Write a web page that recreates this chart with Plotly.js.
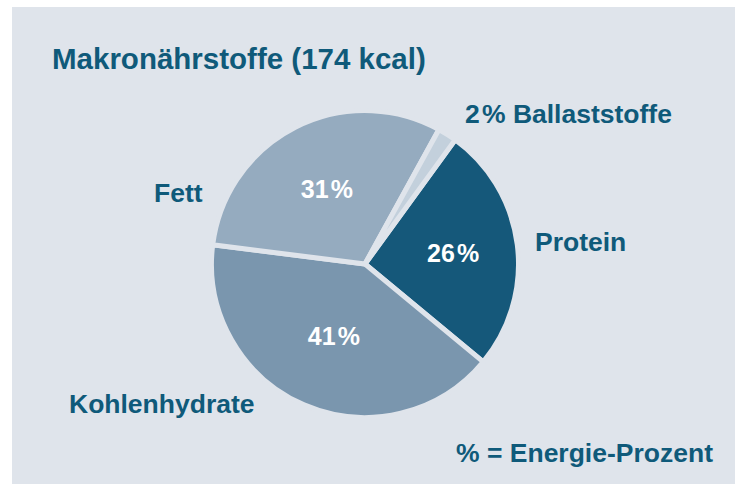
<!DOCTYPE html>
<html>
<head>
<meta charset="utf-8">
<script src="https://cdn.plot.ly/plotly-3.0.1.min.js"></script>
<style>html,body{margin:0;padding:0;background:#ffffff;}#chart{width:741px;height:484px;}</style>
</head>
<body>
<div id="chart"></div>
<script>
// Data
const categories = ["Protein", "Kohlenhydrate", "Fett", "Ballaststoffe"];
const energyPercent = [26, 41, 31, 2];
const sliceColors = ["#15587a", "#7a96ae", "#95abbf", "#c3d0dc"];
const chartTitle = "Makronährstoffe (174 kcal)";
const footnote = "% = Energie-Prozent";

const W = 741, H = 484;
const bg = "#dfe4eb";
const textBlue = "#0f5a7a";
const font = "Liberation Sans, Arial, sans-serif";

// Percentage labels shown inside slices (except the tiny one)
const insideTexts = energyPercent.map((v, i) => i === 3 ? "" : v + "\u200A%");

const trace = {
  type: "pie",
  labels: categories,
  values: energyPercent,
  sort: false,
  direction: "clockwise",
  rotation: 36,
  marker: { colors: sliceColors, line: { color: bg, width: 5 } },
  text: insideTexts,
  textinfo: "text",
  textposition: "inside",
  insidetextorientation: "horizontal",
  insidetextfont: { family: font, size: 25, color: "#ffffff", weight: "bold" },
  hoverinfo: "label+percent",
  showlegend: false,
  domain: { x: [211.5 / W, 518.5 / W], y: [1 - 417.5 / H, 1 - 110.5 / H] }
};

function px(x) { return x / W; }
function py(y) { return 1 - y / H; }

const labelFont = { family: font, size: 26.5, color: textBlue, weight: "bold" };

const annotations = [
  { text: energyPercent[3] + "\u200A% " + categories[3], x: px(463), y: py(113.5), xanchor: "left" },
  { text: categories[0], x: px(533), y: py(242), xanchor: "left" },
  { text: categories[2], x: px(205), y: py(193), xanchor: "right" },
  { text: categories[1], x: px(67), y: py(403.5), xanchor: "left" },
  { text: footnote, x: px(715), y: py(453), xanchor: "right" }
].map(a => Object.assign({
  xref: "paper", yref: "paper", yanchor: "middle", showarrow: false, font: labelFont
}, a));

const layout = {
  width: W, height: H,
  margin: { l: 0, r: 0, t: 0, b: 0 },
  paper_bgcolor: "#ffffff",
  title: {
    text: chartTitle,
    x: 52 / W, xanchor: "left", xref: "paper",
    y: 1 - 59 / H, yanchor: "middle", yref: "container",
    font: { family: font, size: 29.5, color: textBlue, weight: "bold" }
  },
  shapes: [{
    type: "rect", xref: "paper", yref: "paper", layer: "below",
    x0: 12 / W, x1: 735 / W, y0: 0, y1: 1 - 7 / H,
    fillcolor: bg, line: { width: 0 }
  }],
  annotations: annotations
};

Plotly.newPlot("chart", [trace], layout, { staticPlot: true, displayModeBar: false });
</script>
</body>
</html>
